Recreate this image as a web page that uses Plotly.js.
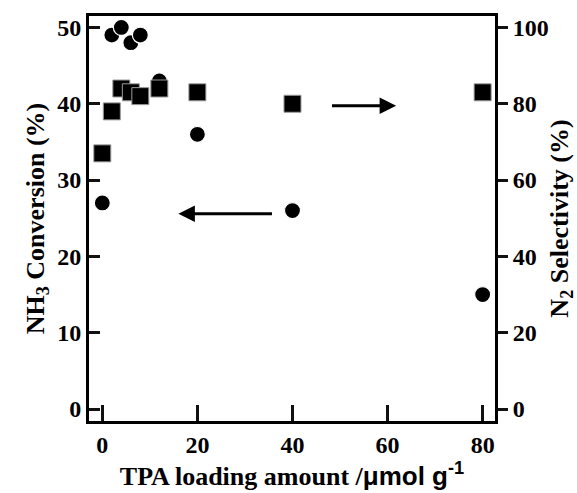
<!DOCTYPE html>
<html><head><meta charset="utf-8">
<script src="https://cdn.plot.ly/plotly-3.0.1.min.js"></script>
<style>html,body{margin:0;padding:0;background:#fff}#chart{width:577px;height:493px}</style>
</head><body><div id="chart"></div>
<script>
// TPA loading amount (µmol g-1)
const loading = [0, 2, 4, 6, 8, 12, 20, 40, 80];
// NH3 conversion (%) - circles, left axis
const nh3Conversion = [27, 49, 50, 48, 49, 43, 36, 26, 15];
// N2 selectivity (%) - squares, right axis
const n2Selectivity = [67, 78, 84, 83, 82, 84, 83, 80, 83];
const xTickVals = [0, 20, 40, 60, 80];
const yTickVals = [0, 10, 20, 30, 40, 50];
const y2TickVals = [0, 20, 40, 60, 80, 100];
// indicator arrows (tail -> head), in left-axis units
const leftArrowX = [36, 16];
const leftArrowY = [25.6, 25.6];
const rightArrowX = [48, 61.8];
const rightArrowY = [39.75, 39.75];

const serif = "'Liberation Serif', 'Times New Roman', serif";
const sans = "'Liberation Sans', Arial, sans-serif";
const tickFont = {family: serif, size: 24, color: '#000', weight: 'bold'};
const titleFont = {family: serif, size: 26, color: '#000', weight: 'bold'};

const traces = [
  {x: loading, y: n2Selectivity, yaxis: 'y2', type: 'scatter', mode: 'markers',
   marker: {symbol: 'square', size: 17, color: '#000', line: {color: '#9a9a9a', width: 1}}},
  {x: loading, y: nh3Conversion, type: 'scatter', mode: 'markers',
   marker: {symbol: 'circle', size: 16, color: '#000', line: {color: '#fff', width: 1.2}}}
];

function arrow(xs, ys) {
  return {x: xs[1], y: ys[1], ax: xs[0], ay: ys[0], xref: 'x', yref: 'y', axref: 'x', ayref: 'y',
    text: '', showarrow: true, arrowhead: 2, arrowsize: 1.1, arrowwidth: 3, arrowcolor: '#000', standoff: 0};
}

function axis(extra) {
  return Object.assign({
    showgrid: false, zeroline: false, showline: true, linecolor: '#000', linewidth: 3,
    tickmode: 'array', tickcolor: '#111111', tickwidth: 3, tickfont: tickFont
  }, extra);
}

const layout = {
  width: 577, height: 493,
  margin: {l: 89, r: 82, t: 16, b: 72},
  paper_bgcolor: '#fff', plot_bgcolor: '#fff',
  showlegend: false,
  xaxis: axis({
    range: [-2.8, 82.6], tickvals: xTickVals, ticks: 'inside', ticklen: 16,
    mirror: true, automargin: true,
    title: {text: 'TPA loading amount /<span style="font-family:' + sans + '">μmol g<sup>-1</sup></span>',
      font: titleFont, standoff: 0}
  }),
  yaxis: axis({
    range: [-1.57, 51.5], tickvals: yTickVals, ticks: 'inside', ticklen: 11,
    title: {text: 'NH<sub>3</sub> Conversion (%)', font: titleFont, standoff: 6}
  }),
  yaxis2: axis({
    range: [-3.14, 103], tickvals: y2TickVals, ticks: 'outside', ticklen: 10,
    overlaying: 'y', side: 'right',
    title: {text: 'N<sub>2</sub> Selectivity (%)', font: titleFont, standoff: 6}
  }),
  annotations: [arrow(leftArrowX, leftArrowY), arrow(rightArrowX, rightArrowY)]
};

Plotly.newPlot('chart', traces, layout, {displayModeBar: false});
</script>
</body></html>
